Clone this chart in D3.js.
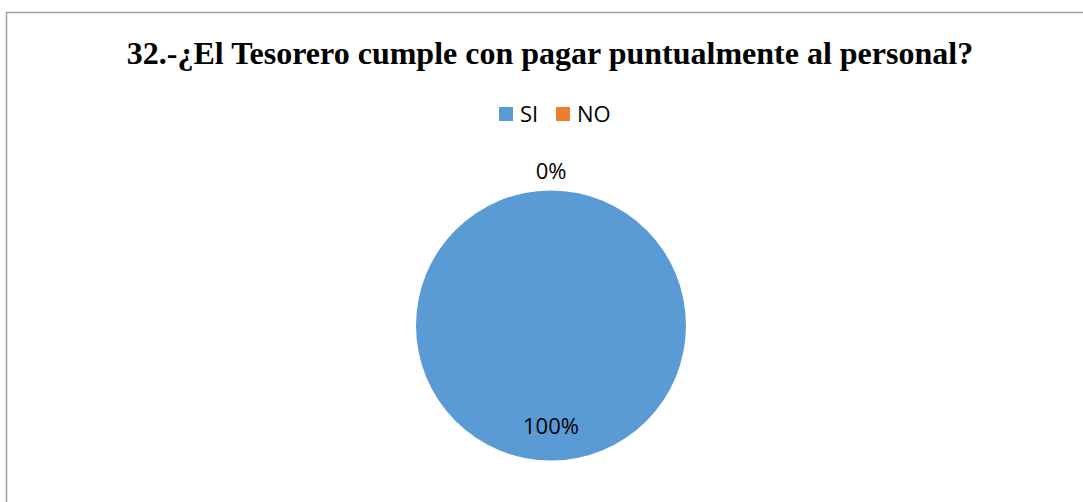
<!DOCTYPE html>
<html>
<head>
<meta charset="utf-8">
<script src="https://cdn.jsdelivr.net/npm/d3@7"></script>
<style>
  body { margin: 0; background: #fff; }
</style>
</head>
<body>
<div class="canvas"></div>
<script>
// chart data
const categories = ['SI', 'NO'];
const values = [100, 0];
const colors = ['#5B9BD5', '#ED7D31'];
const title = '32.-¿El Tesorero cumple con pagar puntualmente al personal?';

const dims = {width: 1083, height: 502};

const svg = d3.select('.canvas')
.append('svg')
.attr('width', dims.width)
.attr('height', dims.height);

// chart border (only top and left visible in frame)
svg.append('rect')
.attr('x', 6.5)
.attr('y', 12.5)
.attr('width', 1090)
.attr('height', 520)
.attr('fill', '#fff')
.attr('stroke', '#a0a0a0')
.attr('stroke-width', 1.5);

// title
svg.append('text')
.attr('x', 550)
.attr('y', 64)
.attr('text-anchor', 'middle')
.attr('font-family', '"Liberation Serif", "Times New Roman", serif')
.attr('font-weight', 'bold')
.attr('font-size', '32px')
.attr('fill', '#000')
.text(title);

// legend
const legend = svg.append('g')
.attr('transform', 'translate(499, 107)');

const legendX = [0, 57];

const items = legend.selectAll('.item')
.data(categories)
.enter()
.append('g')
.attr('class', 'item')
.attr('transform', (d, i) => `translate(${legendX[i]}, 0)`);

items.append('rect')
.attr('width', 14)
.attr('height', 14)
.attr('fill', (d, i) => colors[i]);

items.append('text')
.attr('x', 21)
.attr('y', 15)
.attr('font-family', '"Open Sans", "Noto Sans", sans-serif')
.attr('font-size', '22px')
.attr('fill', '#000')
.text(d => d);

// pie
const cx = 551, cy = 325.5, r = 135;

const pie = d3.pie()
.sort(null)
.value(d => d.value);

const data = categories.map((c, i) => ({name: c, value: values[i], color: colors[i]}));
const arcs = pie(data);

const arc = d3.arc().innerRadius(0).outerRadius(r);
const inLabel = d3.arc().innerRadius(r * 0.74).outerRadius(r * 0.74);
const outLabel = d3.arc().innerRadius(r * 1.15).outerRadius(r * 1.15);

const graph = svg.append('g')
.attr('transform', `translate(${cx}, ${cy})`);

graph.selectAll('.slice')
.data(arcs)
.enter()
.append('path')
.attr('class', 'slice')
.attr('fill', d => d.data.color)
.attr('d', arc);

const total = d3.sum(values);

graph.selectAll('.label')
.data(arcs)
.enter()
.append('text')
.attr('class', 'label')
.attr('transform', d => {
    const p = d.data.value === 0 ? outLabel.centroid(d) : inLabel.centroid(d);
    return `translate(${p[0]}, ${p[1]})`;
})
.attr('text-anchor', 'middle')
.attr('dominant-baseline', 'central')
.attr('font-family', '"Open Sans", "Noto Sans", sans-serif')
.attr('font-size', '22px')
.attr('fill', '#000')
.text(d => Math.round(d.data.value / total * 100) + '%');
</script>
</body>
</html>
